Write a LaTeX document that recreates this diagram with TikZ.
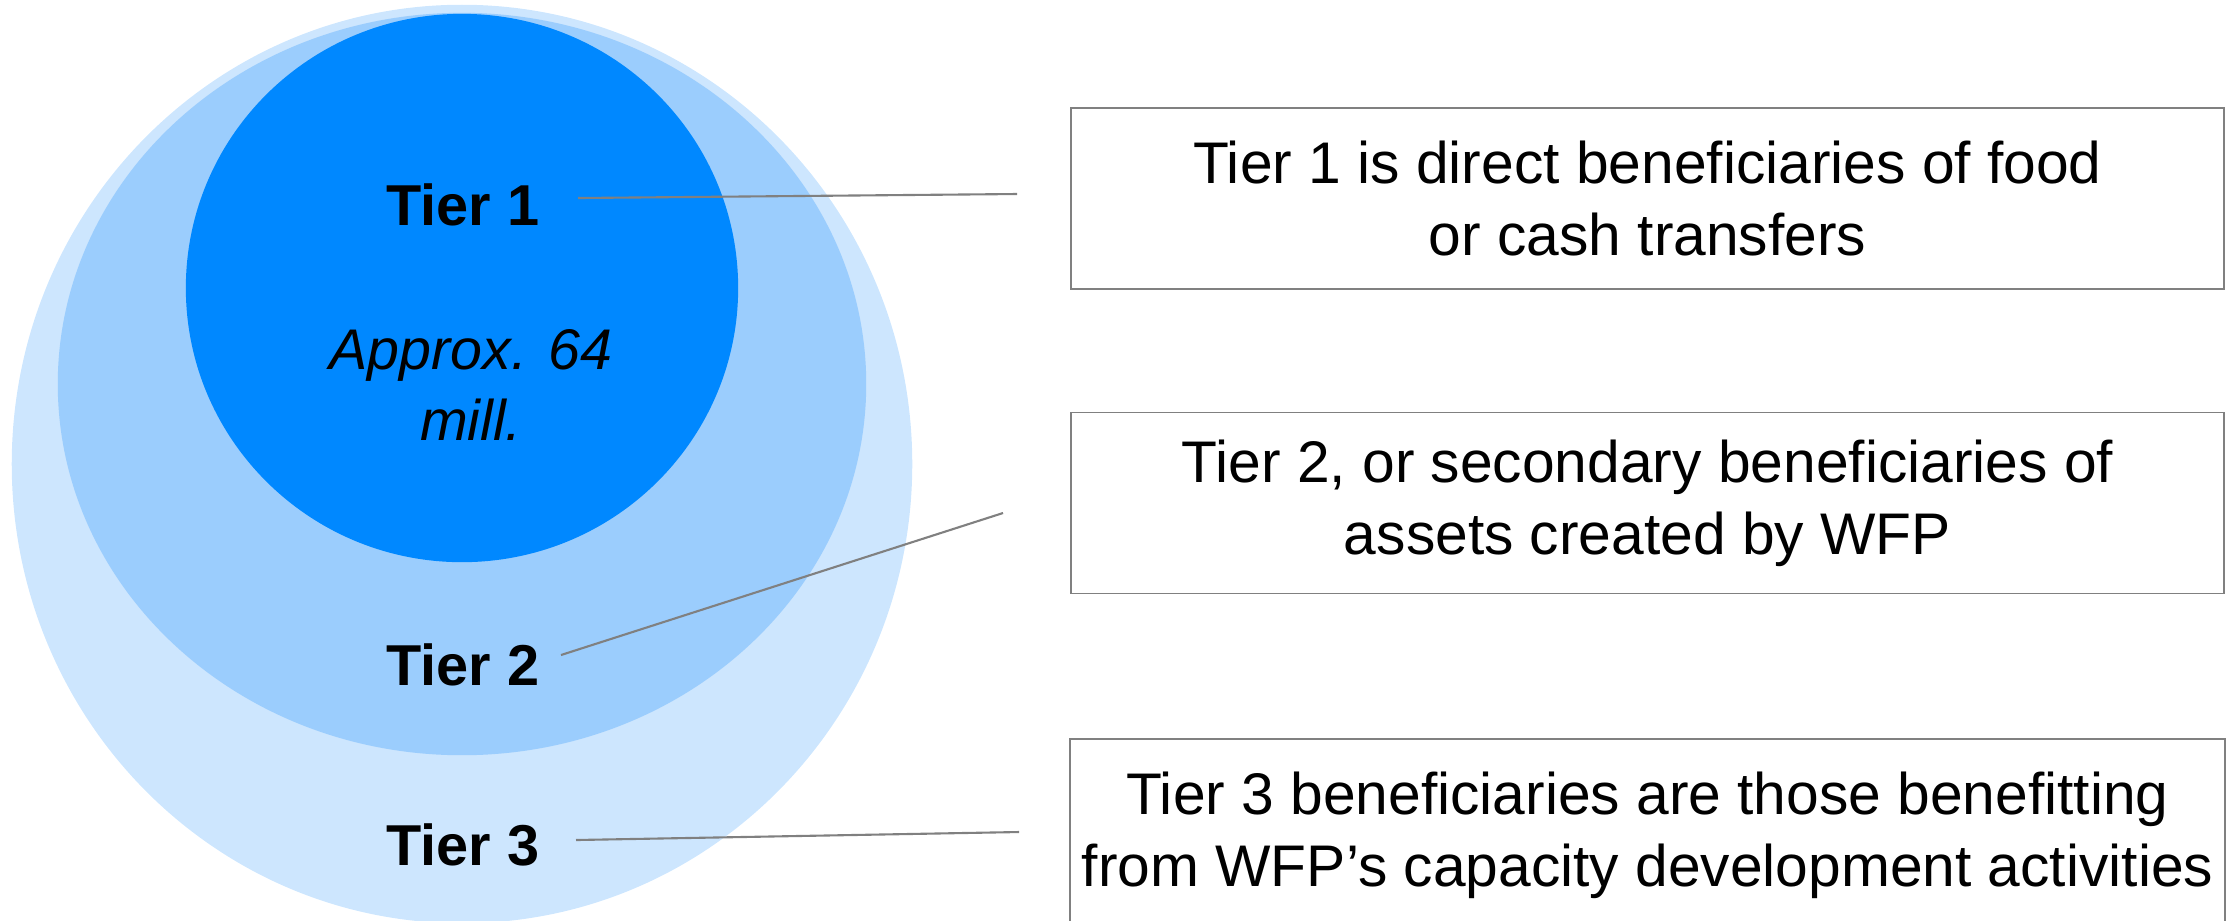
\documentclass[tikz,border=0pt]{standalone}
\usepackage{fontspec}
\setmainfont{Liberation Sans}
\definecolor{tierone}{RGB}{0,136,255}
\definecolor{tiertwo}{RGB}{155,205,253}
\definecolor{tierthree}{RGB}{205,230,254}
\definecolor{leader}{RGB}{128,128,128}
\tikzset{
  tierlabel/.style={font=\fontsize{16.4}{20}\selectfont\bfseries},
  infobox/.style={draw=leader, line width=0.5pt, minimum width=11.53cm,
    minimum height=1.81cm, align=center, font=\fontsize{16.7}{20.4}\selectfont},
  leaderline/.style={leader, line width=0.6pt}
}
\begin{document}
\begin{tikzpicture}[x=0.01cm,y=-0.01cm]
  \useasboundingbox (0,0) rectangle (2234,920);

  % Nested circles
  \fill[tierthree] (462,464) ellipse [x radius=4.5cm, y radius=4.59cm];
  \fill[tiertwo] (462,384) ellipse [x radius=4.04cm, y radius=3.71cm];
  \fill[tierone] (462,288) ellipse [x radius=2.76cm, y radius=2.74cm];

  % Labels inside the circles
  \node[tierlabel] (t1) at (463,205) {Tier 1};
  \node[font=\fontsize{16.3}{20.2}\selectfont\itshape, align=center] (amount) at (471,385) {Approx. 64\\mill.};
  \node[tierlabel] (t2) at (463,665) {Tier 2};
  \node[tierlabel] (t3) at (463,845) {Tier 3};

  % Description boxes
  \node[infobox] (b1) at (1647.5,198.5) {Tier 1 is direct beneficiaries of food\\or cash transfers};
  \node[infobox] (b2) at (1647.5,503) {Tier 2, or secondary beneficiaries of\\assets created by WFP};
  \node[infobox, minimum height=1.92cm] (b3) at (1647.5,835) {Tier 3 beneficiaries are those benefitting\\from WFP’s capacity development activities};

  % Leader lines
  \coordinate (l1a) at (578,198);
  \coordinate (l1b) at (1017,194);
  \coordinate (l2a) at (561,655);
  \coordinate (l2b) at (1003,513);
  \coordinate (l3a) at (576,840);
  \coordinate (l3b) at (1019,832);
  \draw[leaderline] (l1a) -- (l1b);
  \draw[leaderline] (l2a) -- (l2b);
  \draw[leaderline] (l3a) -- (l3b);
\end{tikzpicture}
\end{document}
